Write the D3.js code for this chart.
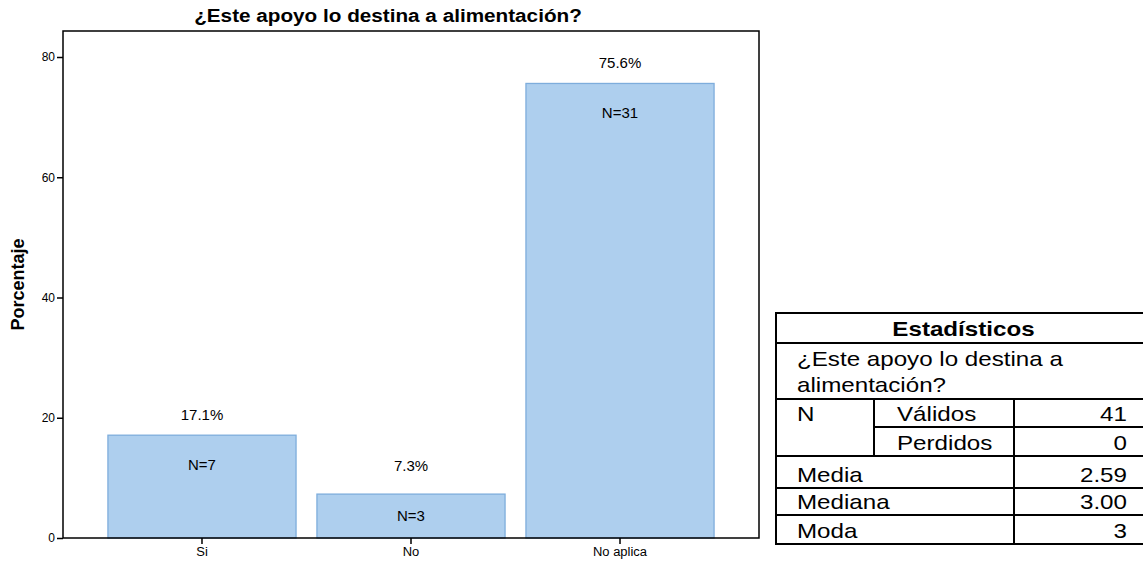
<!DOCTYPE html>
<html>
<head>
<meta charset="utf-8">
<script src="https://cdn.jsdelivr.net/npm/d3@7"></script>
<style>
  html, body { margin: 0; padding: 0; background: #fff; }
  svg { display: block; }
  text { font-family: "Liberation Sans", Arial, sans-serif; fill: #000; }
</style>
</head>
<body>
<svg id="chart" width="1143" height="564"></svg>
<script>
// Responses to the question and their share of the sample
const categories = ["Si", "No", "No aplica"];
const percentages = [17.1, 7.3, 75.6];
const counts = [7, 3, 31];
const yTicks = [0, 20, 40, 60, 80];

// Summary statistics table
const statsTitle = "Estadísticos";
const statsVariable = ["¿Este apoyo lo destina a", "alimentación?"];
const statsRows = [
  { label: "N", sub: "Válidos", value: "41" },
  { label: "", sub: "Perdidos", value: "0" },
  { label: "Media", sub: "", value: "2.59" },
  { label: "Mediana", sub: "", value: "3.00" },
  { label: "Moda", sub: "", value: "3" }
];

const svg = d3.select("#chart");

// Widen glyphs horizontally by factor k (the output is set slightly wide)
function stretch(sel, k) {
  sel.each(function () {
    const len = this.getComputedTextLength();
    d3.select(this).attr("textLength", len * k).attr("lengthAdjust", "spacingAndGlyphs");
  });
  return sel;
}
const WIDE = 1.15;

const plot = { left: 63, right: 759, top: 31, bottom: 538 };

const x = d3.scaleBand()
  .domain(categories)
  .range([plot.left, plot.right])
  .paddingInner(0.1)
  .paddingOuter(0.215);

const y = d3.scaleLinear()
  .domain([0, 80])
  .range([plot.bottom, 57]);

// Title
svg.append("text")
  .attr("x", 388)
  .attr("y", 22)
  .attr("text-anchor", "middle")
  .style("font-size", "18px")
  .style("font-weight", "bold")
  .text("¿Este apoyo lo destina a alimentación?")
  .call(stretch, WIDE);

// Bars
const bars = svg.append("g");
categories.forEach((c, i) => {
  const top = y(percentages[i]);
  const cx = x(c) + x.bandwidth() / 2;
  // count label sits just under the bar top, or mid-bar when the bar is short
  const nY = Math.min(top + 30, (top + y(0)) / 2);

  bars.append("rect")
    .attr("x", x(c))
    .attr("y", top)
    .attr("width", x.bandwidth())
    .attr("height", y(0) - top)
    .attr("fill", "#aecfee")
    .attr("stroke", "#7eaddc")
    .attr("stroke-width", 1.3);

  bars.append("text")
    .attr("x", cx)
    .attr("y", nY - 50 + 5)
    .attr("text-anchor", "middle")
    .style("font-size", "15px")
    .text(percentages[i].toFixed(1) + "%");

  bars.append("text")
    .attr("x", cx)
    .attr("y", nY + 5)
    .attr("text-anchor", "middle")
    .style("font-size", "15px")
    .text("N=" + counts[i]);
});

// Frame around the plot area
svg.append("rect")
  .attr("x", plot.left)
  .attr("y", plot.top)
  .attr("width", plot.right - plot.left)
  .attr("height", plot.bottom - plot.top)
  .attr("fill", "none")
  .attr("stroke", "#000")
  .attr("stroke-width", 1.5);

// Y axis
const yAxis = svg.append("g")
  .attr("transform", `translate(${plot.left},0)`)
  .call(d3.axisLeft(y).tickValues(yTicks).tickSize(6).tickPadding(2).tickFormat(d3.format("d")));
yAxis.select(".domain").remove();
yAxis.selectAll(".tick line").attr("stroke", "#000").attr("stroke-width", 1.5);
yAxis.selectAll(".tick text").style("font-size", "12px").style("font-family", "Liberation Sans, Arial, sans-serif");

// X axis
const xAxis = svg.append("g")
  .attr("transform", `translate(0,${plot.bottom})`)
  .call(d3.axisBottom(x).tickSize(6).tickPadding(3));
xAxis.select(".domain").remove();
xAxis.selectAll(".tick line").attr("stroke", "#000").attr("stroke-width", 1.5);
xAxis.selectAll(".tick text").style("font-size", "12px").style("font-family", "Liberation Sans, Arial, sans-serif")
  .call(stretch, 1.08);

// Y axis title
svg.append("text")
  .attr("transform", `translate(24,${(plot.top + plot.bottom) / 2}) rotate(-90)`)
  .attr("text-anchor", "middle")
  .style("font-size", "18px")
  .style("font-weight", "bold")
  .text("Porcentaje");

// Statistics table
const tbl = svg.append("g");
const tx0 = 776, tx1 = 874, tx2 = 1014, tx3 = 1160;
const rowY = [313, 343, 399, 427, 456, 488, 515, 544];
const line = (x1, y1, x2, y2) => tbl.append("line")
  .attr("x1", x1).attr("y1", y1).attr("x2", x2).attr("y2", y2)
  .attr("stroke", "#000").attr("stroke-width", 2);

tbl.append("text")
  .attr("x", (tx0 + 1143) / 2 + 4)
  .attr("y", 336)
  .attr("text-anchor", "middle")
  .style("font-size", "21px")
  .style("font-weight", "bold")
  .text(statsTitle)
  .call(stretch, WIDE);

statsVariable.forEach((t, i) => {
  tbl.append("text")
    .attr("x", tx0 + 21)
    .attr("y", 366 + i * 26)
    .style("font-size", "21px")
    .text(t)
    .call(stretch, WIDE);
});

statsRows.forEach((r, i) => {
  const yb = rowY[i + 3] - 6;
  if (r.label) tbl.append("text").attr("x", tx0 + 21).attr("y", yb).style("font-size", "21px").text(r.label).call(stretch, WIDE);
  if (r.sub) tbl.append("text").attr("x", tx1 + 23).attr("y", yb).style("font-size", "21px").text(r.sub).call(stretch, WIDE);
  tbl.append("text").attr("x", 1127).attr("y", yb).attr("text-anchor", "end").style("font-size", "21px").text(r.value).call(stretch, WIDE);
});

// Horizontal rules
line(tx0, rowY[0], tx3, rowY[0]);
line(tx0, rowY[1], tx3, rowY[1]);
line(tx0, rowY[2], tx3, rowY[2]);
line(tx1, rowY[3], tx3, rowY[3]);
line(tx0, rowY[4], tx3, rowY[4]);
line(tx0, rowY[5], tx3, rowY[5]);
line(tx0, rowY[6], tx3, rowY[6]);
line(tx0, rowY[7], tx3, rowY[7]);
// Vertical rules
line(tx0, rowY[0] - 1, tx0, rowY[7] + 1);
line(tx1, rowY[2], tx1, rowY[4]);
line(tx2, rowY[2], tx2, rowY[7]);
</script>
</body>
</html>
